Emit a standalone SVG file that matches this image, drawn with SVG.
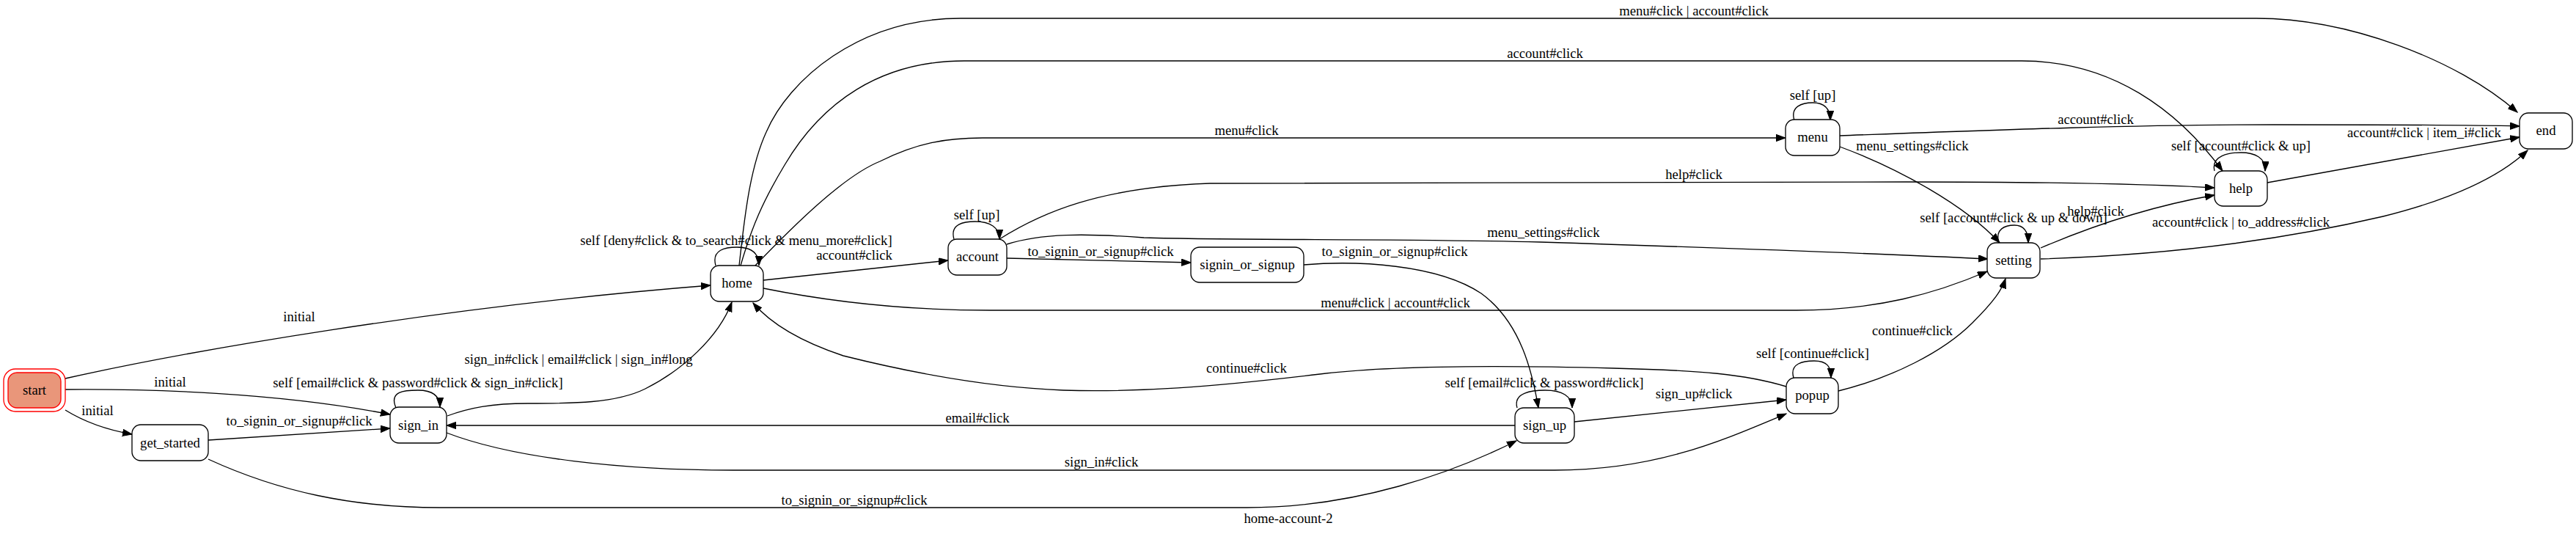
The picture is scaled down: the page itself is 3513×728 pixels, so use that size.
<svg xmlns="http://www.w3.org/2000/svg" width="3513" height="728" viewBox="0 0 3513 728">
<style>
text{font-family:"Liberation Serif","Times New Roman",serif;font-size:18.67px;fill:#000;text-anchor:middle}
.n rect{fill:#fff;stroke:#000;stroke-width:1.33}
#start rect{fill:#e9967a;stroke:#ff0000}
#start rect.o{fill:none}
#edges path{fill:none;stroke:#000;stroke-width:1.33;marker-end:url(#ah)}
</style>
<defs>
<marker id="ah" markerUnits="userSpaceOnUse" markerWidth="14" markerHeight="10" refX="13" refY="4.7" orient="auto">
<path d="M0,0 L13,4.7 L0,9.4 z" fill="#000" stroke="#000" stroke-width="1"/>
</marker>
</defs>
<rect width="3513" height="728" fill="#fff"/>
<g id="edges">
<path d="M89,516 C250,480 600,418 969,389"/>
<path d="M89,531 C200,530 380,535 532,565"/>
<path d="M89,559 C110,572 140,585 180,592"/>
<path d="M284,600 L532,584"/>
<path d="M284,626 C380,670 480,692 600,692 L1700,692 C1850,692 1980,645 2068,601"/>
<path d="M540,556 C530,533 552,532 570,532 C590,532 600,540 600,555"/>
<path d="M610,567 C640,556 670,550 720,550 C780,550 840,550 880,530 C930,505 980,460 998,412"/>
<path d="M976,362 C970,340 990,337 1005,337 C1025,337 1035,345 1035,362"/>
<path d="M1041,382 L1293,355"/>
<path d="M1301,326 C1295,305 1315,302 1330,302 C1350,302 1363,310 1363,326"/>
<path d="M1373,352 L1624,358"/>
<path d="M1778,361 C1850,355 1960,360 2020,400 C2075,440 2090,510 2098,556"/>
<path d="M2069,556 C2063,535 2090,532 2107,532 C2130,532 2144,540 2144,556"/>
<path d="M2147,575 L2436,545"/>
<path d="M2066,580 L609,580"/>
<path d="M609,590 C700,625 850,641 1000,641 L2120,641 C2260,641 2350,600 2436,564"/>
<path d="M2446,515 C2440,495 2460,492 2474,492 C2492,492 2497,500 2497,515"/>
<path d="M2436,527 C2380,510 2320,505 2200,502 C2050,498 1900,498 1800,510 C1650,528 1550,535 1450,532 C1350,528 1250,510 1150,485 C1090,465 1050,440 1027,413"/>
<path d="M2507,533 C2580,515 2650,480 2690,440 C2720,410 2730,395 2735,380"/>
<path d="M1041,393 C1150,415 1250,423 1350,423 L2450,423 C2560,423 2640,400 2710,370"/>
<path d="M1030,362 C1080,310 1150,240 1200,220 C1250,195 1290,188 1340,188 L2435,188"/>
<path d="M1008,362 C1015,300 1022,230 1045,180 C1075,110 1170,25 1310,25 L3077,25 C3200,25 3350,80 3433,153"/>
<path d="M1010,362 C1025,310 1040,275 1070,225 C1120,140 1200,83 1315,83 L2757,83 C2880,83 2970,150 3031,233"/>
<path d="M2447,164 C2441,145 2458,140 2472,140 C2488,140 2496,148 2496,164"/>
<path d="M2509,185 C2700,178 2900,170 3100,170 C3250,170 3350,170 3436,172"/>
<path d="M2509,200 C2590,230 2680,280 2727,331"/>
<path d="M2726,331 C2720,312 2735,307 2747,307 C2760,307 2766,315 2766,331"/>
<path d="M3020,233 C3015,212 3040,208 3056,208 C3075,208 3090,215 3089,233"/>
<path d="M2783,338 C2860,305 2940,280 3020,266"/>
<path d="M2783,353 C2950,348 3100,330 3250,295 C3350,270 3410,240 3447,205"/>
<path d="M3092,249 L3436,187"/>
<path d="M1363,326 C1420,290 1500,255 1650,250 L2600,248 C2800,248 2950,252 3020,256"/>
<path d="M1373,333 C1420,318 1480,318 1560,324 C1700,328 1900,325 2100,330 C2350,338 2550,345 2711,353"/>
</g>
<g id="edge-labels">
<text x="408" y="438">initial</text>
<text x="232" y="527">initial</text>
<text x="133" y="566">initial</text>
<text x="408" y="580">to_signin_or_signup#click</text>
<text x="1165" y="688">to_signin_or_signup#click</text>
<text x="570" y="528">self [email#click &amp; password#click &amp; sign_in#click]</text>
<text x="789" y="496">sign_in#click | email#click | sign_in#long</text>
<text x="1004" y="334">self [deny#click &amp; to_search#click &amp; menu_more#click]</text>
<text x="1165" y="354">account#click</text>
<text x="1332" y="299">self [up]</text>
<text x="1501" y="349">to_signin_or_signup#click</text>
<text x="1902" y="349">to_signin_or_signup#click</text>
<text x="2106" y="528">self [email#click &amp; password#click]</text>
<text x="2310" y="543">sign_up#click</text>
<text x="1333" y="576">email#click</text>
<text x="1502" y="636">sign_in#click</text>
<text x="2472" y="488">self [continue#click]</text>
<text x="1700" y="508">continue#click</text>
<text x="2608" y="457">continue#click</text>
<text x="1903" y="419">menu#click | account#click</text>
<text x="1700" y="184">menu#click</text>
<text x="2310" y="21">menu#click | account#click</text>
<text x="2107" y="79">account#click</text>
<text x="2472" y="136">self [up]</text>
<text x="2858" y="169">account#click</text>
<text x="2608" y="205">menu_settings#click</text>
<text x="2746" y="303">self [account#click &amp; up &amp; down]</text>
<text x="2858" y="294">help#click</text>
<text x="3056" y="309">account#click | to_address#click</text>
<text x="3306" y="187">account#click | item_i#click</text>
<text x="3056" y="205">self [account#click &amp; up]</text>
<text x="2310" y="244">help#click</text>
<text x="2105" y="323">menu_settings#click</text>
</g>
<g id="start" class="n"><rect class="o" x="5" y="503" width="84" height="58" rx="16"/><rect x="11" y="508" width="72" height="48" rx="12"/><text x="47" y="538">start</text></g>
<g id="get_started" class="n"><rect x="180" y="579" width="104" height="49" rx="12"/><text x="232" y="610">get_started</text></g>
<g id="sign_in" class="n"><rect x="532" y="555" width="77" height="49" rx="12"/><text x="570.5" y="586">sign_in</text></g>
<g id="home" class="n"><rect x="969" y="362" width="72" height="49" rx="12"/><text x="1005" y="392">home</text></g>
<g id="account" class="n"><rect x="1293" y="326" width="80" height="49" rx="12"/><text x="1333" y="356">account</text></g>
<g id="signin_or_signup" class="n"><rect x="1624" y="337" width="154" height="48" rx="12"/><text x="1701" y="367">signin_or_signup</text></g>
<g id="menu" class="n"><rect x="2435" y="163" width="74" height="49" rx="12"/><text x="2472" y="193">menu</text></g>
<g id="help" class="n"><rect x="3020" y="233" width="72" height="48" rx="12"/><text x="3056" y="263">help</text></g>
<g id="end" class="n"><rect x="3436" y="154" width="72" height="49" rx="12"/><text x="3472" y="184">end</text></g>
<g id="setting" class="n"><rect x="2710" y="331" width="72" height="48" rx="12"/><text x="2746" y="361">setting</text></g>
<g id="popup" class="n"><rect x="2436" y="515" width="71" height="49" rx="12"/><text x="2471.5" y="545">popup</text></g>
<g id="sign_up" class="n"><rect x="2066" y="556" width="81" height="48" rx="12"/><text x="2106.5" y="586">sign_up</text></g>
<text x="1757" y="713">home-account-2</text>
</svg>
